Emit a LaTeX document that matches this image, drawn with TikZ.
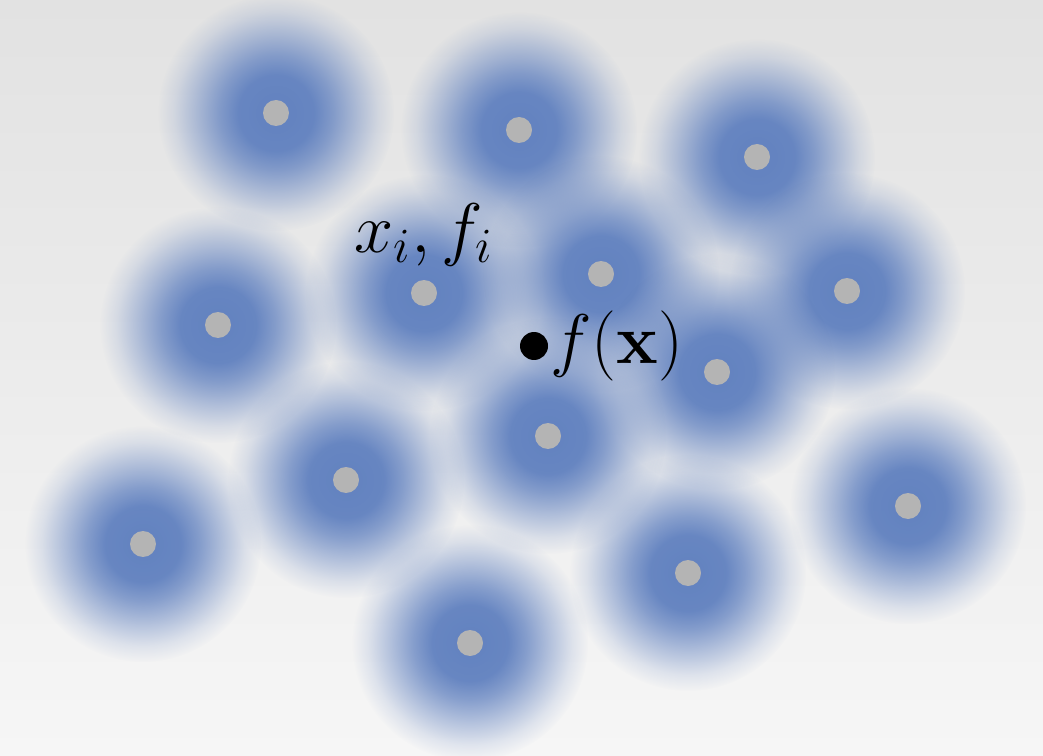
\documentclass[tikz,border=0pt]{standalone}
\usepackage{fix-cm}
\usepackage{xcolor}
\usepackage{tikz}
\usetikzlibrary{positioning,fadings}
\definecolor{bgtop}{RGB}{226,226,226}
\definecolor{bgbottom}{RGB}{246,246,246}
\definecolor{blobblue}{RGB}{98,130,192}
\definecolor{sitegray}{RGB}{180,180,180}
\pgfdeclareradialshading{blobshade}{\pgfpointorigin}{color(0bp)=(pgftransparent!0); color(8bp)=(pgftransparent!4); color(12bp)=(pgftransparent!25); color(17bp)=(pgftransparent!57); color(21.5bp)=(pgftransparent!85); color(25bp)=(pgftransparent!100); color(50bp)=(pgftransparent!100)}
\pgfdeclarefading{blobfade}{\pgfuseshading{blobshade}}

\begin{document}
\begin{tikzpicture}[
  x=0.02cm, y=-0.02cm, font=\fontsize{40}{48}\selectfont,
  site/.style={circle, fill=sitegray, inner sep=0pt, minimum size=5.2mm},
  query/.style={circle, fill=black, inner sep=0pt, minimum size=5.6mm},
  blob/.style={fill=blobblue, path fading=blobfade},
]
\fill[top color=bgtop, bottom color=bgbottom] (0,0) rectangle (1043,756);
\useasboundingbox (0,0) rectangle (1043,756);
\foreach \x/\y [count=\i] in {276/113, 519/130, 757/157, 218/325, 424/293, 601/274, 847/291,
  717/372, 548/436, 346/480, 143/544, 470/643, 688/573, 908/506}
  \coordinate (s\i) at (\x,\y);
\foreach \i in {1,...,14}
  \fill[blob] (s\i) circle (118);
\foreach \i in {1,...,14}
  \node[site] (p\i) at (s\i) {};
\node[above=1.5mm of p5] (lab) {$x_i, f_i$};
\node[query] (q) at (534,346) {};
\node[right=0pt of q, inner sep=1pt] (fq) {$f(\mathbf{x})$};
\end{tikzpicture}
\end{document}
